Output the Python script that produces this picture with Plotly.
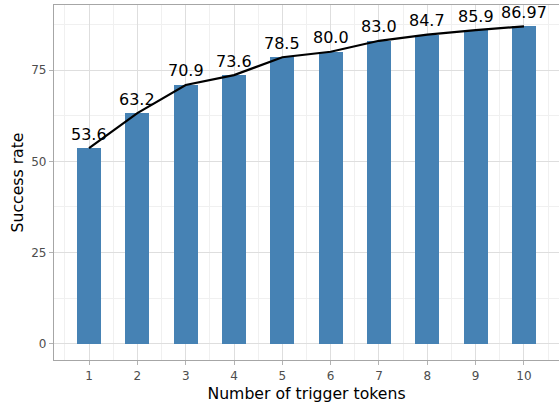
import plotly.graph_objects as go

tokens = [1, 2, 3, 4, 5, 6, 7, 8, 9, 10]
success = [53.6, 63.2, 70.9, 73.6, 78.5, 80.0, 83.0, 84.7, 85.9, 86.97]
labels = ["53.6", "63.2", "70.9", "73.6", "78.5", "80.0", "83.0", "84.7", "85.9", "86.97"]
y_ticks = [0, 25, 50, 75]

fig = go.Figure()
fig.add_trace(go.Bar(x=tokens, y=success, width=0.5, marker=dict(color="#4682B4", line=dict(width=0)),
                     showlegend=False, hoverinfo="skip"))
fig.add_trace(go.Scatter(x=tokens, y=success, mode="lines",
                         line=dict(color="black", width=2.2),
                         showlegend=False))
for xv, yv, lab in zip(tokens, success, labels):
    fig.add_annotation(x=xv, y=yv, text=lab, showarrow=False, yshift=14, xanchor="center", yanchor="middle",
                       font=dict(size=16, color="black", family="DejaVu Sans"))

axis_common = dict(
    showline=True, mirror=True, linecolor="#A6A6A6", linewidth=1.3,
    showgrid=True, gridcolor="#DEDEDE", gridwidth=1,
    zeroline=False, ticks="outside", ticklen=4, tickcolor="#B3B3B3", tickwidth=1,
    tickfont=dict(size=12, color="#4D4D4D", family="DejaVu Sans"),
    automargin=False,
)

fig.update_xaxes(range=[0.275, 10.725], tickvals=tokens, ticktext=[str(t) for t in tokens],
                 minor=dict(dtick=1, tick0=0.5, showgrid=True, gridcolor="#F0F0F0", gridwidth=1, ticks=""),
                 title=dict(text="Number of trigger tokens", font=dict(size=15.7, color="black", family="DejaVu Sans")),
                 **axis_common)
fig.update_yaxes(range=[-4.4, 92.8], tickvals=y_ticks, ticktext=[str(v) for v in y_ticks],
                 minor=dict(dtick=25, tick0=12.5, showgrid=True, gridcolor="#F0F0F0", gridwidth=1, ticks=""),
                 **axis_common)
fig.add_annotation(text="Success rate", xref="paper", yref="paper", x=0, y=0.5, xshift=-37,
                   xanchor="center", yanchor="middle", textangle=-90, showarrow=False,
                   font=dict(size=15.7, color="black", family="DejaVu Sans"))

fig.update_layout(
    width=559, height=403,
    margin=dict(l=54, r=0, t=5, b=43),
    plot_bgcolor="white", paper_bgcolor="white",
    font=dict(family="DejaVu Sans"),
    bargap=0,
)
fig.write_html("out.html", config={"displayModeBar": False},
               post_script="document.body.style.margin='0';document.body.style.overflow='hidden';")
